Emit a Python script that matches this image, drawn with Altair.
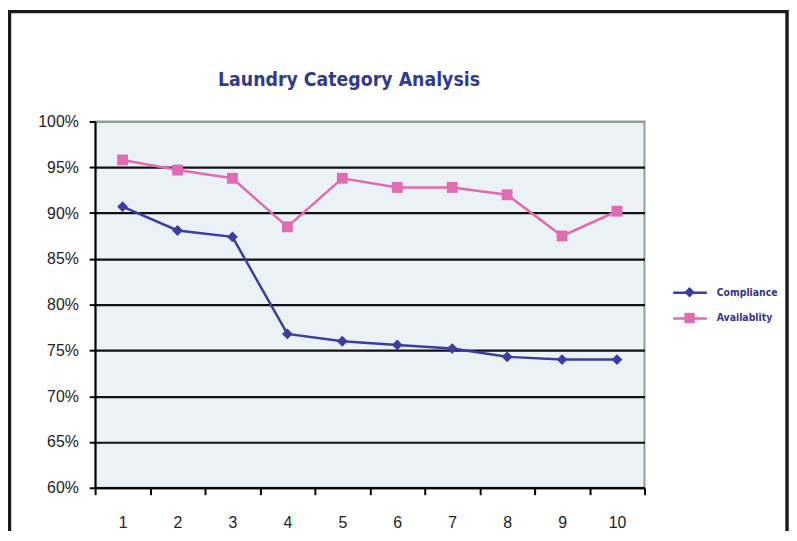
import altair as alt
import pandas as pd

categories = [1, 2, 3, 4, 5, 6, 7, 8, 9, 10]
compliance = [0.907, 0.881, 0.874, 0.768, 0.760, 0.756, 0.752, 0.743, 0.740, 0.740]
availability = [0.958, 0.947, 0.938, 0.885, 0.938, 0.928, 0.928, 0.920, 0.875, 0.902]
series_names = ["Compliance", "Availablity"]
marker_shapes = ["diamond", "square"]
series_colors = ["#3C3DA0", "#E06BB0"]
y_ticks = [0.60, 0.65, 0.70, 0.75, 0.80, 0.85, 0.90, 0.95, 1.00]

NARROW = "Liberation Sans Narrow, DejaVu Sans Condensed, sans-serif"

rows = []
for c, v in zip(categories, compliance):
    rows.append({"cat": c, "value": v, "series": series_names[0]})
for c, v in zip(categories, availability):
    rows.append({"cat": c, "value": v, "series": series_names[1]})
df = pd.DataFrame(rows)

label_kw = dict(labelFont=NARROW, labelFontSize=10.5, labelFontWeight="bold", labelColor="#35358A",
                title=None, orient="none")

legend_line = alt.Legend(legendX=591, legendY=163, symbolType="M-2,0L2,0", symbolSize=289,
                         symbolStrokeWidth=2.5, labelOffset=17, rowPadding=10, **label_kw)

x = alt.X("cat:O", title=None, scale=alt.Scale(paddingInner=0, paddingOuter=0),
          axis=alt.Axis(labelAngle=0, tickBand="extent", tickSize=7, tickColor="black", tickWidth=2,
                        domainColor="black", domainWidth=2, labelFont="Liberation Sans",
                        labelFontSize=16, labelColor="#222222", labelPadding=20, grid=False))
y = alt.Y("value:Q", title=None, scale=alt.Scale(domain=[0.6, 1.0], nice=False, zero=False),
          axis=alt.Axis(values=y_ticks, format=".0%", tickSize=6, tickColor="black", tickWidth=2,
                        domainColor="black", domainWidth=2, labelFont="Liberation Sans",
                        labelFontSize=16, labelColor="#222222", labelPadding=11,
                        grid=True, gridWidth=2.2,
                        gridColor={"condition": {"test": "datum.value >= 0.999", "value": "#9a9a9a"}, "value": "#111111"}))

base = alt.Chart(df)
lines = base.mark_line(strokeWidth=2.5).encode(
    x=x, y=y, detail="series:N",
    stroke=alt.Stroke("series:N", scale=alt.Scale(domain=series_names, range=series_colors), legend=legend_line))

point_layers = []
for i, (name, shp, col) in enumerate(zip(series_names, marker_shapes, series_colors)):
    leg = alt.Legend(legendX=595, legendY=167 + 26 * i, symbolSize=110, symbolFillColor=col,
                     symbolStrokeColor=col, symbolStrokeWidth=0, labelExpr="''", labelOffset=0, **label_kw)
    point_layers.append(
        base.transform_filter(alt.datum.series == name)
        .mark_point(filled=True, size=120, opacity=1, color=col)
        .encode(x=x, y=y, shape=alt.Shape("series:N", scale=alt.Scale(range=[shp]), legend=leg))
    )

frame = alt.Chart(pd.DataFrame({"a": [0]})).mark_rect(
    filled=False, stroke="#1a1a1a", strokeWidth=3.5).encode(
    x=alt.value(-86.5), x2=alt.value(699), y=alt.value(-111), y2=alt.value(460))

chart = alt.layer(lines, *point_layers, frame).resolve_scale(shape="independent").resolve_legend(
    shape="independent").properties(
    width=555, height=370,
    padding={"left": 88, "top": 112, "right": 146, "bottom": 41},
    autosize=alt.AutoSizeParams(type="none"),
    background="white",
    title=alt.TitleParams("Laundry Category Analysis", font=NARROW, fontSize=19.5, fontWeight="bold",
                          color="#2E3B8E", anchor="middle", dx=-21, offset=0, dy=96, baseline="alphabetic"),
).configure_view(fill="#EAF2F6", stroke="#9a9a9a", strokeWidth=2)

chart.save("out.html", embed_options={"renderer": "svg", "actions": False})
